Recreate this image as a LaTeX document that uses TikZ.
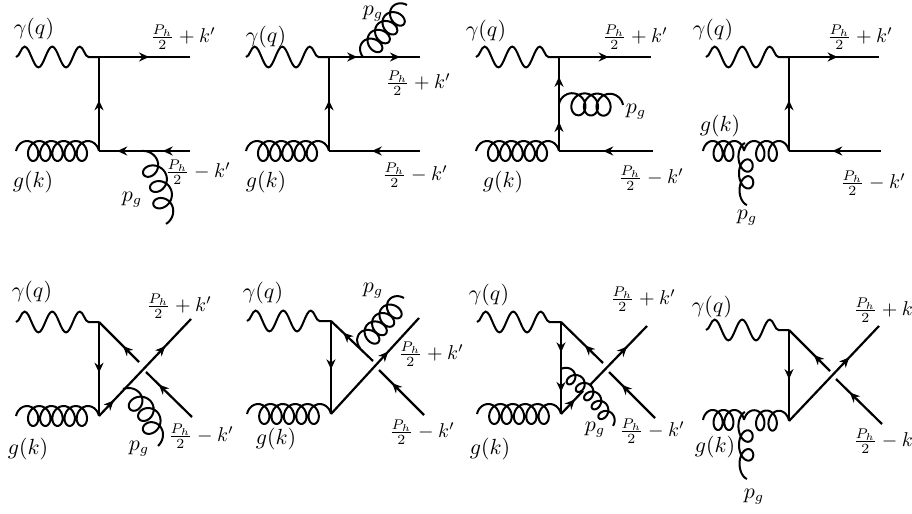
\documentclass[tikz,border=0pt]{standalone}
\usepackage{amsmath,amssymb}
\usetikzlibrary{arrows.meta,decorations.pathmorphing,decorations.markings}
\tikzset{
  photon/.style={line width=1pt,decorate,decoration={snake,amplitude=5.2pt,segment length=13.8pt}},
  gluon/.style={line width=1pt,line join=round},
  fermion/.style={line width=1.1pt},
  fraclab/.style={font=\fontsize{10}{12}\selectfont},
  tip/.style={postaction={decorate,decoration={markings,mark=at position #1 with {\arrow{Stealth[length=5pt,width=4.5pt]}}}}}
}
\newdimen\gldx
\newdimen\gldy
\newcommand{\gluonline}[6]{
  \pgfextractx{\gldx}{\pgfpointdiff{\pgfpointanchor{#1}{center}}{\pgfpointanchor{#2}{center}}}
  \pgfextracty{\gldy}{\pgfpointdiff{\pgfpointanchor{#1}{center}}{\pgfpointanchor{#2}{center}}}
  \pgfmathsetmacro{\gllen}{2*veclen(\gldx,\gldy)}
  \pgfmathsetmacro{\glang}{atan2(\gldy,\gldx)}
  \pgfmathsetmacro{\glstep}{(\gllen-2*#5)/(#3+.5)}
  \begin{scope}[shift={(#1)},rotate=\glang,x=0.5pt,y=0.5pt]
    \draw[gluon] plot[domain=-.75:#3-.25,samples=120,variable=\u]
      ({\glstep*(\u+.75)+#5-#5*sin(360*\u)},{-(#4)*cos(360*\u)+(#6)*4*(\u+.75)*(#3-.25-\u)/((#3+.5)*(#3+.5))});
  \end{scope}
}
\begin{document}
\begin{tikzpicture}[x=0.5pt,y=-0.5pt,every node/.style={font=\fontsize{10.5}{13}\selectfont,inner sep=0pt}]
\useasboundingbox (0,0) rectangle (912,514);
\foreach \p/\xa/\xv/\ya/\yb in {1/16/99/57/151,2/246/329/57/151,3/476/559/57/151,4/706/789/57/151,5/16/99/322/416,6/247/331/321/414,7/477/561/322/414,8/706/789/330/421} {
  \coordinate (pho\p) at (\xa,\ya);
  \coordinate (top\p) at (\xv,\ya);
  \coordinate (bot\p) at (\xv,\yb);
  \draw[photon] (pho\p) -- (top\p);
}
\foreach \p/\xa/\yb in {1/16/151,2/246/151,3/476/151,5/16/416,6/247/414,7/477/414} {
  \coordinate (glu\p) at (\xa,\yb);
  \gluonline{glu\p}{bot\p}{5}{10}{8}{0}
}
\coordinate (glu4) at (703,151);
\coordinate (mid4) at (744,151);
\gluonline{glu4}{mid4}{2}{10}{7}{0}
\gluonline{mid4}{bot4}{2}{10}{7}{0}
\coordinate (glu8) at (703,420);
\coordinate (mid8) at (744,420);
\gluonline{glu8}{mid8}{2}{10}{7}{0}
\gluonline{mid8}{bot8}{2}{10}{7}{0}

\coordinate (up1) at (190,57);
\coordinate (dn1) at (190,151);
\draw[fermion,tip=.55] (top1) -- (up1);
\draw[fermion,tip=.54] (bot1) -- (top1);
\draw[fermion,tip=.30,tip=.80] (dn1) -- (bot1);
\coordinate (up2) at (420,57);
\coordinate (dn2) at (420,151);
\draw[fermion,tip=.31,tip=.78] (top2) -- (up2);
\draw[fermion,tip=.54] (bot2) -- (top2);
\draw[fermion,tip=.53] (dn2) -- (bot2);
\coordinate (up3) at (651,57);
\coordinate (dn3) at (653,151);
\draw[fermion,tip=.54] (top3) -- (up3);
\draw[fermion,tip=.31,tip=.79] (bot3) -- (top3);
\draw[fermion,tip=.53] (dn3) -- (bot3);
\coordinate (up4) at (879,57);
\coordinate (dn4) at (881,151);
\draw[fermion,tip=.54] (top4) -- (up4);
\draw[fermion,tip=.54] (bot4) -- (top4);
\draw[fermion,tip=.53] (dn4) -- (bot4);

\foreach \p/\ux/\uy/\dx/\dy/\ax/\ay/\bx/\by/\tv/\tu/\tl/\tr in {5/191/319/192/417/139/362/146/372/.54/.40/.72/{.16,.72},6/419/318/424/415/373/361/379/370/.52/.71/.71/{.65},8/879/326/882/424/830/371/836/379/.54/.39/.70/{.67}} {
  \coordinate (up\p) at (\ux,\uy);
  \coordinate (dn\p) at (\dx,\dy);
  \coordinate (ga\p) at (\ax,\ay);
  \coordinate (gb\p) at (\bx,\by);
  \draw[fermion,tip=\tv] (top\p) -- (bot\p);
  \draw[fermion,tip=\tu] (ga\p) -- (top\p);
  \draw[fermion,tip=\tl] (dn\p) -- (gb\p);
  \draw[fermion] (bot\p) -- (up\p);
  \foreach \t in \tr {
    \path[tip=\t] (bot\p) -- (up\p);
  }
}
\coordinate (up7) at (647,326);
\coordinate (dn7) at (655,418);
\coordinate (ga7) at (603,363);
\coordinate (gb7) at (609,372);
\coordinate (gc7) at (583,391);
\coordinate (gd7) at (590,385);
\draw[fermion,tip=.33,tip=.76] (top7) -- (bot7);
\draw[fermion,tip=.43] (ga7) -- (top7);
\draw[fermion,tip=.72] (dn7) -- (gb7);
\draw[fermion,tip=.63] (bot7) -- (gc7);
\draw[fermion,tip=.65] (gd7) -- (up7);

\coordinate (ra1) at (142,151);
\coordinate (rb1) at (166,224);
\gluonline{ra1}{rb1}{3}{10}{9}{6}
\coordinate (ra2) at (363,57);
\coordinate (rb2) at (407,5);
\gluonline{ra2}{rb2}{4}{10}{8}{0}
\coordinate (ra3) at (559,104);
\coordinate (rb3) at (623,105);
\gluonline{ra3}{rb3}{3}{11}{10}{0}
\coordinate (ra4) at (745,143);
\coordinate (rb4) at (747,205);
\gluonline{ra4}{rb4}{2}{-7}{10}{0}
\coordinate (ra5) at (123,389);
\coordinate (rb5) at (158,446);
\gluonline{ra5}{rb5}{3}{10}{9}{8}
\coordinate (ra6) at (360,348);
\coordinate (rb6) at (404,298);
\gluonline{ra6}{rb6}{4}{10}{8}{0}
\coordinate (ra7) at (561,369);
\coordinate (rb7) at (613,426);
\gluonline{ra7}{rb7}{5}{7}{6}{4}
\coordinate (ra8) at (745,412);
\coordinate (rb8) at (747,479);
\gluonline{ra8}{rb8}{2}{-7}{10}{0}

\foreach \p/\xq/\yq/\xk/\yk/\xg/\yg in {1/34/29/33/182/132/200,2/266/37/266/182/373/14,3/486/31/503/182/636/112,4/713/30/720/126/747/218,5/32/292/28/449/139/449,6/263/293/276/439/373/291,7/489/295/490/449/595/430,8/712/307/715/447/754/497} {
  \node (gam\p) at (\xq,\yq) {$\gamma(q)$};
  \node (gk\p) at (\xk,\yk) {$g(k)$};
  \node (pg\p) at (\xg,\yg) {$p_g$};
}
\foreach \p/\xa/\ya/\xb/\yb in {1/183/37/198/172,2/418/83/415/175,3/635/37/651/178,4/860/37/873/183,5/179/306/201/436,6/431/354/422/432,7/643/299/652/431} {
  \node[fraclab] (plus\p) at (\xa,\ya) {$\frac{P_h}{2}+k'$};
  \node[fraclab] (minus\p) at (\xb,\yb) {$\frac{P_h}{2}-k'$};
}
\node[fraclab] (plus8) at (883,310) {$\frac{P_h}{2}+k$};
\node[fraclab] (minus8) at (883,441) {$\frac{P_h}{2}-k$};
\end{tikzpicture}
\end{document}
